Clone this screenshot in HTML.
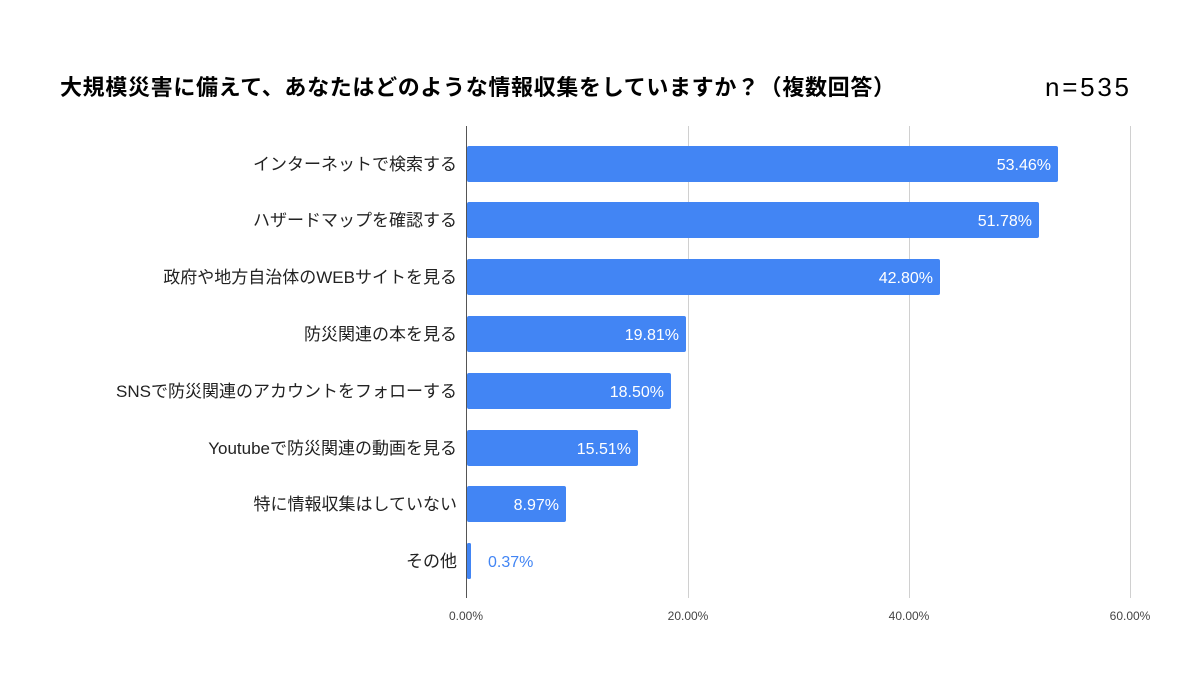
<!DOCTYPE html>
<html><head><meta charset="utf-8"><style>
body{margin:0;background:#fff;}
svg{display:block;}
</style></head><body>
<svg width="1200" height="700" xmlns="http://www.w3.org/2000/svg" font-family="'Liberation Sans','Noto Sans CJK JP',sans-serif">
<rect width="1200" height="700" fill="#fff"/>
<text x="60" y="95" font-size="22" font-weight="bold" fill="#000" textLength="835" lengthAdjust="spacing">大規模災害に備えて、あなたはどのような情報収集をしていますか？（複数回答）</text>
<text x="1045" y="96" font-size="26" fill="#000" textLength="84" lengthAdjust="spacing">n=535</text>
<g stroke="#d0d0d0" stroke-width="1">
<line x1="688.5" y1="126" x2="688.5" y2="598"/>
<line x1="909.5" y1="126" x2="909.5" y2="598"/>
<line x1="1130.5" y1="126" x2="1130.5" y2="598"/>
</g>
<g fill="#4285f4">
<rect x="467" y="146" width="591" height="36" rx="2"/>
<rect x="467" y="202" width="572" height="36" rx="2"/>
<rect x="467" y="259" width="473" height="36" rx="2"/>
<rect x="467" y="316" width="219" height="36" rx="2"/>
<rect x="467" y="373" width="204" height="36" rx="2"/>
<rect x="467" y="430" width="171" height="36" rx="2"/>
<rect x="467" y="486" width="99" height="36" rx="2"/>
<rect x="467" y="543" width="4" height="36" rx="1.5"/>
</g>
<line x1="466.5" y1="126" x2="466.5" y2="598" stroke="#555" stroke-width="1"/>
<g font-size="16" fill="#fff" text-anchor="end">
<text x="1051" y="170">53.46%</text>
<text x="1032" y="226">51.78%</text>
<text x="933" y="283">42.80%</text>
<text x="679" y="340">19.81%</text>
<text x="664" y="397">18.50%</text>
<text x="631" y="454">15.51%</text>
<text x="559" y="510">8.97%</text>
</g>
<text x="488" y="567" font-size="16" fill="#4285f4">0.37%</text>
<g font-size="17" fill="#222" text-anchor="end">
<text x="457" y="170">インターネットで検索する</text>
<text x="457" y="226">ハザードマップを確認する</text>
<text x="457" y="283">政府や地方自治体のWEBサイトを見る</text>
<text x="457" y="340">防災関連の本を見る</text>
<text x="457" y="397">SNSで防災関連のアカウントをフォローする</text>
<text x="457" y="454">Youtubeで防災関連の動画を見る</text>
<text x="457" y="510">特に情報収集はしていない</text>
<text x="457" y="567">その他</text>
</g>
<g font-size="12" fill="#444" text-anchor="middle">
<text x="466" y="620">0.00%</text>
<text x="688" y="620">20.00%</text>
<text x="909" y="620">40.00%</text>
<text x="1130" y="620">60.00%</text>
</g>
</svg>
</body></html>
